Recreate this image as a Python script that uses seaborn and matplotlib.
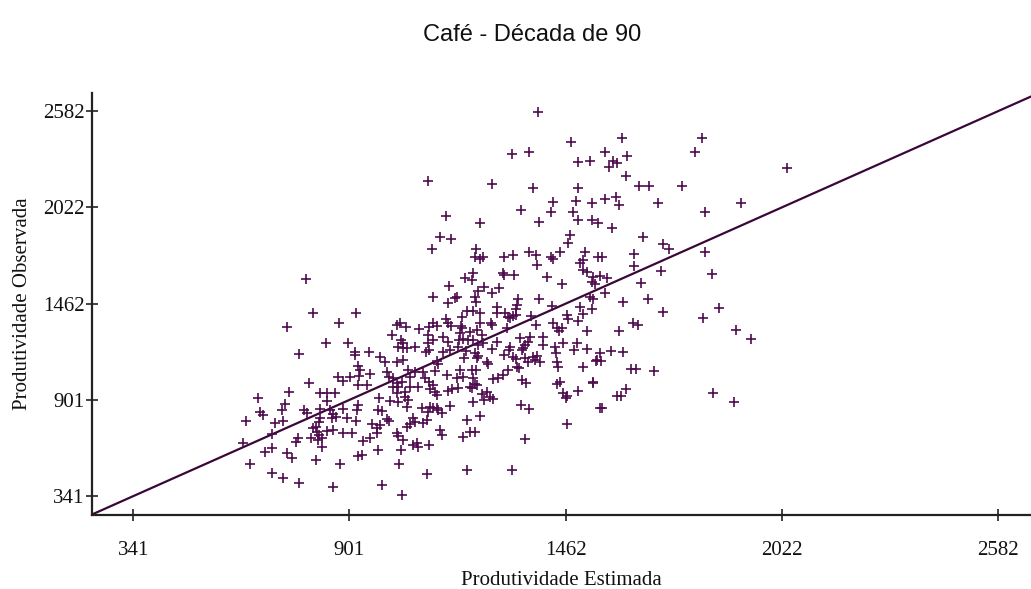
import numpy as np
import pandas as pd
import seaborn as sns
import matplotlib.pyplot as plt

# ----- Chart values ----- #
title = 'Café - Década de 90'
x_label = 'Produtividade Estimada'
y_label = 'Produtividade Observada'
tick_values = [341, 901, 1462, 2022, 2582]
diag = [234, 2667]

estimada = [
    789, 807, 919, 739, 874, 841, 898, 770, 916, 916, 952, 981, 994, 1024, 1032, 1048,
    1081, 1011, 1035, 1040, 1027, 1040, 1050, 1071, 1024, 1040, 924, 929, 955, 926, 872,
    885, 903, 796, 744, 825, 843, 864, 924, 947, 999, 1004, 1053, 1058, 1071, 1014, 1024,
    1014, 1027, 1037, 1058, 1079, 1045, 1024,
    843, 665, 734, 726, 670, 678, 634, 709, 729, 783, 791, 825, 851, 859, 867, 856, 885,
    895, 918, 924, 921, 978, 975, 986, 999, 1004, 1006, 1027, 1045, 1053, 1050, 1066,
    1071, 1058, 1050, 960, 973, 981, 825, 822, 815, 807, 817, 822, 830, 820, 830, 843,
    859, 885, 908, 802, 768, 763, 700, 626, 700, 683, 739, 752, 815, 644, 877, 937, 955,
    973, 1024, 1027, 1040, 1066, 1076, 975, 1035, 924, 934, 1030, 700, 729, 770, 859,
    986, 1037,
    1429, 1489, 1530, 1346, 1424, 1481, 1152, 1240, 1392, 1494, 1530, 1546, 1473, 1468,
    1136, 1164, 1115, 1230, 1227, 1240, 1248, 1302, 1325, 1366, 1384, 1424, 1429, 1447,
    1387, 1512, 1507, 1499, 1507, 1517, 1546, 1221, 1219, 1201, 1299, 1302, 1328, 1413,
    1452, 1533, 1530, 1538, 1159, 1289, 1271, 1235, 1250, 1118, 1175, 1180, 1227, 1229,
    1157, 1338, 1336, 1333, 1392, 1525, 1533, 1426, 1499, 1507, 1530, 1206, 1221, 1240,
    1284, 1284, 1193, 1152, 1157, 1164, 1304, 1312, 1325, 1333, 1317, 1372, 1465, 1468,
    1494, 1240, 1268, 1271, 1310, 1190, 1193, 1118, 1128, 1108, 1385, 1429, 1439, 1452,
    1444, 1517,
    1105, 1188, 1214, 1232, 1118, 1144, 1105, 1100, 1108, 1157, 1162, 1144, 1185, 1196,
    1209, 1221, 1183, 1203, 1245, 1248, 1235, 1227, 1235, 1232, 1198, 1271, 1284, 1258,
    1260, 1343, 1369, 1364, 1356, 1348, 1351, 1403, 1403, 1317, 1315, 1302, 1325, 1333,
    1356, 1364, 1377, 1387, 1382, 1395, 1336, 1341, 1434, 1437, 1455, 1483, 1491, 1517,
    1439, 1442, 1543, 1507, 1092, 1128, 1131, 1123, 1154, 1188, 1196, 1180, 1219, 1229,
    1221, 1214, 1227, 1232, 1219, 1097, 1108, 1118, 1110, 1123, 1128, 1157, 1167, 1183,
    1273, 1286, 1299, 1312, 1348, 1359, 1245, 1258, 1250, 1273, 1266, 1221, 1162, 1439,
    1447, 1455, 1465, 1463, 1494, 1533, 1551, 1089, 1110, 1118, 1128, 1105, 1131, 1141,
    1092, 1102, 1240, 1206, 1346, 1366, 1465, 1136, 1141, 1214, 1227, 1196, 1356, 1079,
    1108, 1102, 1206, 1323,
    1607, 1815, 1563, 1797, 1525, 1584, 1594, 1620, 1574, 1618, 1651, 1677, 1763, 2035,
    1563, 1592, 1600, 1701, 1916, 1823, 1582, 1662, 1714, 1729, 1556, 1638, 1823, 1638,
    1709, 1841, 1551, 1569, 1657, 1564, 1610, 1675, 1714, 1859, 1818, 1636, 1649, 1600,
    1903, 1942, 1551, 1579, 1610, 1540, 1553, 1631, 1644, 1690, 1532, 1618, 1594, 1605,
    1556, 1843, 1898,
    1390, 1475, 1323, 1366, 1494, 1105, 1271, 1377, 1494,
]

observada = [
    1604, 1406, 1406, 1325, 1348, 1232, 1232, 1168, 1179, 1162, 1179, 1150, 1121, 1337,
    1349, 1325, 1313, 1278, 1249, 1232, 1208, 1202, 1202, 1208, 1121, 1133, 1098, 1075,
    1051, 1040, 1034, 1010, 1034, 999, 946, 940, 940, 940, 987, 987, 1063, 1034, 1075,
    1034, 1063, 1028, 999, 975, 975, 1005, 975, 975, 946, 940,
    894, 912, 877, 842, 830, 813, 778, 767, 778, 842, 825, 848, 842, 819, 801, 796, 848,
    796, 778, 871, 842, 912, 842, 836, 790, 778, 894, 888, 917, 900, 859, 796, 772, 761,
    743, 761, 737, 755, 796, 772, 743, 737, 714, 696, 679, 667, 626, 720, 725, 708, 708,
    679, 679, 655, 702, 650, 621, 597, 591, 562, 551, 528, 528, 661, 679, 708, 708, 690,
    667, 638, 650, 609, 609, 574, 580, 528, 475, 446, 417, 394, 405, 347,
    2052, 2058, 2046, 2006, 1994, 1994, 1971, 1930, 1936, 1948, 1948, 1930, 1860, 1814,
    1848, 1837, 1779, 1779, 1732, 1721, 1732, 1732, 1744, 1761, 1744, 1732, 1721, 1761,
    1686, 1761, 1715, 1697, 1657, 1645, 1732, 1639, 1598, 1610, 1639, 1628, 1628, 1616,
    1575, 1616, 1587, 1575, 1563, 1552, 1523, 1534, 1558, 1499, 1494, 1499, 1499, 1470,
    1465, 1488, 1453, 1430, 1488, 1499, 1488, 1447, 1441, 1401, 1430, 1418, 1418, 1406,
    1441, 1406, 1383, 1371, 1348, 1331, 1406, 1383, 1389, 1395, 1377, 1389, 1395, 1371,
    1360, 1348, 1348, 1337, 1320, 1331, 1320, 1348, 1331, 1325, 1337, 1348, 1320, 1320,
    1302, 1302,
    1278, 1290, 1296, 1307, 1249, 1266, 1232, 1179, 1191, 1238, 1191, 1179, 1249, 1255,
    1249, 1249, 1208, 1185, 1278, 1232, 1220, 1174, 1156, 1145, 1145, 1197, 1238, 1121,
    1110, 1261, 1267, 1238, 1220, 1191, 1203, 1267, 1220, 1208, 1191, 1162, 1150, 1139,
    1145, 1121, 1150, 1156, 1133, 1121, 1092, 1086, 1208, 1174, 1232, 1191, 1232, 1197,
    1121, 1092, 1133, 1092, 1063, 1127, 1110, 1069, 1045, 1075, 1034, 1028, 1075, 1075,
    1028, 975, 993, 987, 969, 1028, 1005, 987, 963, 946, 928, 952, 963, 969,
    1022, 1028, 1045, 1075, 1016, 999, 935, 946, 900, 906, 917, 888, 865, 993,
    1005, 940, 923, 912, 952, 1005, 853, 853, 859, 853, 853, 830, 842, 825,
    767, 784, 807, 784, 871, 848, 761, 725, 696, 714, 714, 685, 673, 626,
    638, 472, 493, 493,
    2425, 2425, 2344, 2344, 2291, 2291, 2280, 2320, 2256, 2204, 2146, 2146, 2146, 2250,
    2070, 2082, 2035, 2047, 2047, 1994, 1901, 1849, 1808, 1779, 1732, 1750, 1761, 1680,
    1651, 1633, 1622, 1610, 1581, 1523, 1470, 1488, 1412, 1435, 1377, 1348, 1337, 1302,
    1307, 1255, 1174, 1185, 1179, 1127, 1127, 1080, 1080, 1069, 999, 963, 923, 923,
    853, 940, 888,
    2576, 2401, 2332, 2344, 2285, 2175, 2157, 2134, 2134,
]

df = pd.DataFrame({x_label: estimada, y_label: observada})

# ----- Figure ----- #
sns.set_style('white')
plt.rcParams['font.family'] = ['Liberation Serif', 'DejaVu Serif']

fig = plt.figure(figsize=(10.31, 5.89), dpi=100)
ax = fig.add_axes([0.0892, 0.1256, 0.9108, 0.7164])

point_color = '#4e0c4e'
line_color = '#3a0838'

ax.plot(diag, diag, color=line_color, linewidth=1.6, zorder=1)
sns.scatterplot(data=df, x=x_label, y=y_label, ax=ax, marker='+', s=45,
                color=point_color, linewidth=1.2, zorder=2)

ax.set_xlim(diag[0], diag[1])
ax.set_ylim(231, 2687)
ax.set_xticks(tick_values)
ax.set_yticks(tick_values)
ax.set_xticklabels([str(v) for v in tick_values])
ax.set_yticklabels([str(v) for v in tick_values])

for side in ['top', 'right']:
    ax.spines[side].set_visible(False)
for side in ['left', 'bottom']:
    ax.spines[side].set_color('#222222')
    ax.spines[side].set_linewidth(1.6)

# seaborn's white style switches the tick marks off, bring them back
ax.tick_params(axis='both', which='major', bottom=True, left=True,
               direction='inout', length=9, width=1.2,
               colors='#222222', labelsize=15, labelcolor='#111111')
ax.tick_params(axis='x', pad=14)
ax.tick_params(axis='y', pad=1)

ax.set_xlabel(x_label, fontsize=15, color='#111111', labelpad=8)
ax.set_ylabel(y_label, fontsize=15, color='#111111', labelpad=8)

fig.text(0.516, 0.941, title, ha='center', va='center', fontsize=17,
         family=['Liberation Sans', 'DejaVu Sans'], color='#111111')

fig.savefig('out.png', dpi=100)
